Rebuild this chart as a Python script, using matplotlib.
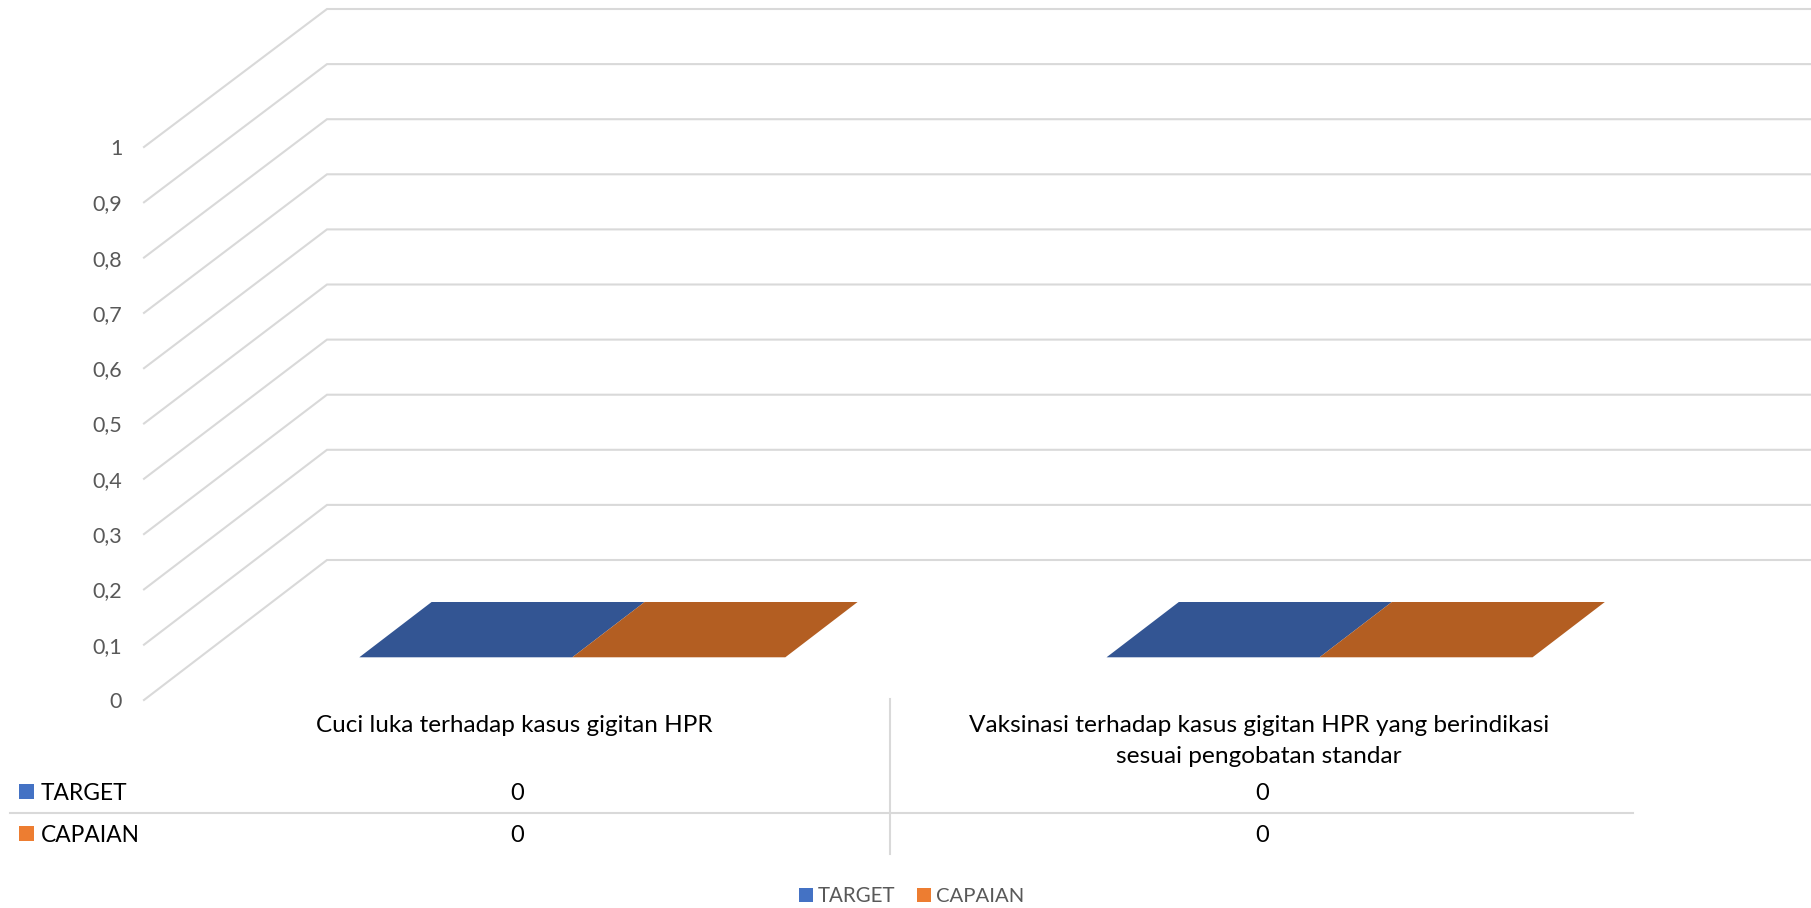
import matplotlib
matplotlib.use("Agg")
import matplotlib.pyplot as plt
from matplotlib.patches import Polygon, Rectangle
from matplotlib.transforms import Affine2D

categories = ["Cuci luka terhadap kasus gigitan HPR",
              "Vaksinasi terhadap kasus gigitan HPR yang berindikasi\nsesuai pengobatan standar"]
series_names = ["TARGET", "CAPAIAN"]
target = [0, 0]
capaian = [0, 0]
y_ticks = [0, 0.1, 0.2, 0.3, 0.4, 0.5, 0.6, 0.7, 0.8, 0.9, 1]
y_tick_labels = ["0", "0,1", "0,2", "0,3", "0,4", "0,5", "0,6", "0,7", "0,8", "0,9", "1"]

W, H = 1811, 908
BLUE, ORANGE = "#4472C4", "#ED7D31"
BLUE_TOP, ORANGE_TOP = "#335593", "#B35E22"
GRID, GREY, BLACK = "#D9D9D9", "#595959", "#000000"
plt.rcParams["font.family"] = ["Lato", "DejaVu Sans"]

fig = plt.figure(figsize=(W / 100, H / 100), dpi=100, facecolor="white")
# Front plane of the 3D box: x in category units, y in value units
L, R, B, T = 144, 1634, 700, 147
ax = fig.add_axes([L / W, 1 - B / H, (R - L) / W, (B - T) / H])
ax.set_xlim(-0.5, 1.5)
ax.set_ylim(0, 1)
ax.patch.set_visible(False)
for s in ax.spines.values():
    s.set_visible(False)
ax.set_xticks([])
ax.set_yticks(y_ticks)
ax.set_yticklabels(y_tick_labels, color=GREY, fontsize=15.5)
ax.tick_params(axis="y", length=0, pad=15.7)

# depth (0 front .. 1 back) expressed in data units
DX = 183 / ((R - L) / 2)
DY = 140 / (B - T)
BACK_SCALE = 551 / 553


def proj(x, depth, v):
    return (x + depth * DX, v * (1 + depth * (BACK_SCALE - 1)) + depth * DY)


for v in y_ticks:
    xs, ys = zip(proj(-0.5, 0, v), proj(-0.5, 1, v), proj(1.6, 1, v))
    ax.plot(xs, ys, color=GRID, lw=1.5, clip_on=False, solid_joinstyle="miter", zorder=1)

BAR_W = 213 / ((R - L) / 2)
D0, D1 = 0.305, 0.70
group_x = [0, 1.003]
for i in range(len(categories)):
    for j, (vals, col) in enumerate(((target, BLUE_TOP), (capaian, ORANGE_TOP))):
        x0 = group_x[i] - BAR_W + j * BAR_W
        x1 = x0 + BAR_W
        v = vals[i]
        pts = [proj(x0, D0, v), proj(x1, D0, v), proj(x1, D1, v), proj(x0, D1, v)]
        ax.add_patch(Polygon(pts, closed=True, fc=col, ec="none", clip_on=False, zorder=3))

# Pixel-space layer for data table and legend
px = Affine2D().scale(1, -1).translate(0, H)


def line(x0, y0, x1, y1):
    fig.add_artist(plt.Line2D([x0, x1], [y0, y1], transform=px, color=GRID, lw=1.5))


def swatch(x, y, w, h, c):
    fig.add_artist(Rectangle((x, y), w, h, transform=px, fc=c, ec="none"))


def label(x, y, s, color=BLACK, size=16.4, ha="center"):
    fig.text(x, y, s, transform=px, color=color, fontsize=size, ha=ha, va="center",
             linespacing=1.546)


line(10, 813, R - 1, 813)
line(889.5, 699, 889.5, 854)

label(514, 725, categories[0], size=17.5)
label(1259, 741, categories[1], size=17.6)

rows = [(target, 794, 793, 784, BLUE), (capaian, 836, 835, 826, ORANGE)]
for name, (vals, y, ty, sy, col) in zip(series_names, rows):
    swatch(19, sy, 15, 15, col)
    label(41, ty, name, ha="left")
    for cx, v in zip((517, 1262), vals):
        label(cx, y, str(v), size=17)

swatch(799, 888, 14, 14, BLUE)
label(818, 896, series_names[0], color=GREY, size=14.8, ha="left")
swatch(917, 888, 14, 14, ORANGE)
label(936, 896, series_names[1], color=GREY, size=14.6, ha="left")

fig.savefig("out.png", dpi=100, facecolor="white")
